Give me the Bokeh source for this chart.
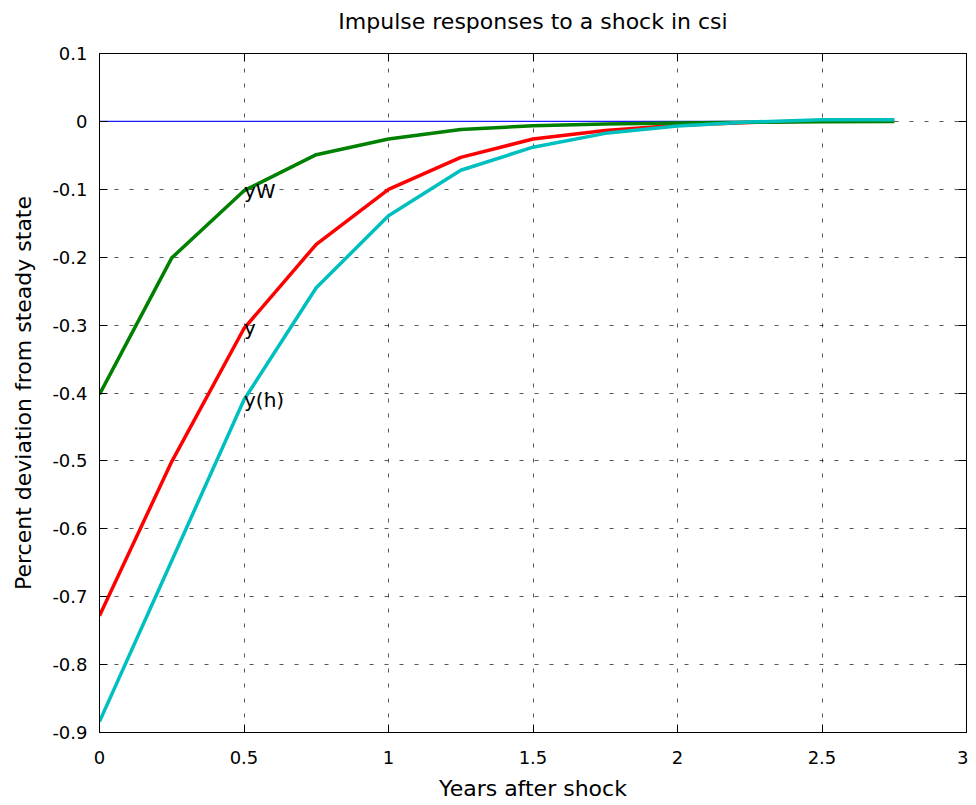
from bokeh.plotting import figure
from bokeh.models import Range1d, FixedTicker, LinearAxis, ColumnDataSource
from bokeh.core.properties import value
from bokeh.embed import file_html
from bokeh.resources import INLINE

# ---- data ----
years = [0.0, 0.25, 0.5, 0.75, 1.0, 1.25, 1.5, 1.75, 2.0, 2.25, 2.5, 2.75]
zero_line = [0.0] * len(years)
yW = [-0.402, -0.201, -0.102, -0.049, -0.026, -0.012, -0.0064, -0.0038, -0.0024, -0.0012, -0.0006, -0.0003]
y = [-0.728, -0.501, -0.305, -0.181, -0.100, -0.053, -0.026, -0.0135, -0.0055, -0.0015, 0.0008, 0.0008]
yh = [-0.884, -0.647, -0.410, -0.245, -0.139, -0.072, -0.038, -0.0176, -0.0069, -0.001, 0.0025, 0.0025]
series_names = ["yW", "y", "y(h)"]
series_colors = ["#008000", "#ff0000", "#00bfbf"]

x_ticks = [0, 0.5, 1, 1.5, 2, 2.5, 3]
x_tick_labels = ["0", "0.5", "1", "1.5", "2", "2.5", "3"]
y_ticks = [-0.9, -0.8, -0.7, -0.6, -0.5, -0.4, -0.3, -0.2, -0.1, 0, 0.1]
y_tick_labels = ["-0.9", "-0.8", "-0.7", "-0.6", "-0.5", "-0.4", "-0.3", "-0.2", "-0.1", "0", "0.1"]

title = "Impulse responses to a shock in csi"
x_label = "Years after shock"
y_label = "Percent deviation from steady state"

FONT = "DejaVu Sans"

p = figure(width=968, height=803, output_backend="svg", toolbar_location=None,
           x_range=Range1d(0, 3), y_range=Range1d(-0.9, 0.1),
           min_border_left=99, min_border_right=2, min_border_top=53, min_border_bottom=67,
           x_axis_label=x_label, y_axis_label=y_label)
p.background_fill_color = "white"
p.border_fill_color = "white"
p.outline_line_color = "black"
p.outline_line_width = 1

xt = FixedTicker(ticks=x_ticks)
yt = FixedTicker(ticks=y_ticks)

for ax, ticks, labels in ((p.xaxis[0], x_ticks, x_tick_labels), (p.yaxis[0], y_ticks, y_tick_labels)):
    ax.ticker = FixedTicker(ticks=ticks)
    ax.major_label_overrides = {t: l for t, l in zip(ticks, labels)}
    ax.major_tick_in = 8
    ax.major_tick_out = 0
    ax.minor_tick_line_color = None
    ax.major_tick_line_color = "black"
    ax.axis_line_color = "black"
    ax.major_label_text_font = FONT
    ax.major_label_text_font_size = "18px"
    ax.major_label_text_color = "black"
    ax.axis_label_text_font = FONT
    ax.axis_label_text_font_size = "22px"
    ax.axis_label_text_font_style = "normal"
    ax.axis_label_text_color = "black"

p.xaxis[0].major_label_standoff = 18
p.xaxis[0].axis_label_standoff = 9
p.yaxis[0].major_label_standoff = 12
p.yaxis[0].axis_label_standoff = 13

# mirrored ticks on top (carrying the chart title) and on the right
top_ax = LinearAxis(ticker=FixedTicker(ticks=x_ticks),
                    major_label_overrides={t: "" for t in x_ticks},
                    major_label_text_font_size="0px",
                    major_tick_in=8, major_tick_out=0, minor_tick_line_color=None,
                    major_label_standoff=0, axis_line_color="black",
                    axis_label=title, axis_label_standoff=20,
                    axis_label_text_font=FONT, axis_label_text_font_size="22px",
                    axis_label_text_font_style="normal", axis_label_text_color="black")
right_ax = LinearAxis(ticker=FixedTicker(ticks=y_ticks),
                      major_label_overrides={t: "" for t in y_ticks},
                      major_label_text_font_size="0px",
                      major_tick_in=8, major_tick_out=0, minor_tick_line_color=None,
                      major_label_standoff=0, axis_line_color="black")
p.add_layout(top_ax, "above")
p.add_layout(right_ax, "right")

for g in (p.xgrid[0], p.ygrid[0]):
    g.ticker = xt if g is p.xgrid[0] else yt
    g.grid_line_color = "black"
    g.grid_line_alpha = 0.65
    g.grid_line_dash = "4 11"
    g.grid_line_width = 1

# lines
p.line(years, zero_line, line_color="#1a1aff", line_width=1.4)
series = [yW, y, yh]
draw_order = [1, 0, 2]
for i in draw_order:
    p.line(years, series[i], line_color=series_colors[i], line_width=3.5)

# labels at t = 0.5 on each curve
idx = years.index(0.5)
src = ColumnDataSource(dict(x=[years[idx]] * 3, y=[s[idx] for s in series], t=series_names))
p.text(x="x", y="y", text="t", source=src, text_font=value(FONT), text_font_size="20px",
       text_align="left", text_baseline="middle", text_color="black")

open("out.html", "w").write(file_html(p, INLINE))
